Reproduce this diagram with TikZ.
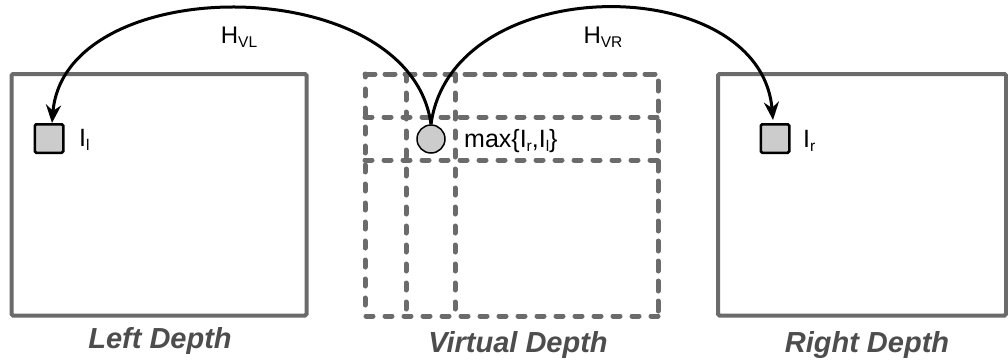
\documentclass[tikz,border=0pt]{standalone}
\usepackage{fontspec}
\setmainfont{Liberation Sans}
\usetikzlibrary{arrows.meta}
\newcommand{\sbs}[1]{\raisebox{-4bp}{\fontsize{15.5bp}{15.5bp}\selectfont #1}}
\definecolor{framegray}{HTML}{6B6B6B}
\definecolor{dashgray}{HTML}{6B6B6B}
\definecolor{capgray}{HTML}{4D4D4D}
\definecolor{boxfill}{HTML}{CCCCCC}
\begin{document}
\begin{tikzpicture}[x=1bp,y=-1bp,
  depthframe/.style={draw=framegray,line width=4bp,rounded corners=1.5bp},
  dashouter/.style={draw=dashgray,line width=5bp,line cap=round,dash pattern=on 10bp off 10bp},
  dashgrid/.style={draw=dashgray,line width=5bp,line cap=round,dash pattern=on 7bp off 12bp},
  pix/.style={draw=black,fill=boxfill,line width=2.5bp,rounded corners=1.5bp,minimum size=28.5bp,inner sep=0pt},
  vdot/.style={circle,draw=black,fill=boxfill,line width=1.5bp,minimum size=28bp,inner sep=0pt},
  lab/.style={font=\fontsize{25bp}{28bp}\selectfont,inner sep=0pt,anchor=base west},
  hlab/.style={font=\fontsize{24bp}{28bp}\selectfont,inner sep=0pt,anchor=base},
  captext/.style={font=\fontsize{29bp}{32bp}\selectfont\bfseries\itshape,text=capgray,inner sep=0pt,anchor=base},
  curvearrow/.style={draw=black,line width=3bp,-{Stealth[length=18bp,width=15bp]}}
]
\useasboundingbox[fill=white] (0,0) rectangle (1008,363);
% frames
\draw[depthframe] (11.5,74) rectangle (306.5,315.5);
\draw[depthframe] (718,74) rectangle (1006,315.5);
% virtual dashed grid
\draw[dashouter] (365,74) -- (658,74) -- (658,316);
\draw[dashgrid] (658,316) -- (365,316) -- (365,74);
\draw[dashgrid] (406,74) -- (406,316);
\draw[dashgrid] (455,74) -- (455,316);
\draw[dashgrid] (365,117) -- (658,117);
\draw[dashgrid] (365,160) -- (658,160);
% pixels
\node[pix] (sqL) at (49,138.5) {};
\node[pix] (sqR) at (775,138.5) {};
\node[vdot] (c) at (431,139) {};
% labels
\node[lab] (tl) at (79,146.5) {I\sbs{l}};
\node[lab] (tr) at (803,147) {I\sbs{r}};
\node[lab] (tm) at (464,147) {max\{I\sbs{r},I\sbs{l}\}};
\node[hlab] (hvl) at (239,43) {H\sbs{VL}};
\node[hlab] (hvr) at (603,43) {H\sbs{VR}};
% captions
\node[captext] (cl) at (160,348) {Left Depth};
\node[captext] (cv) at (518,352) {Virtual Depth};
\node[captext] (cr) at (867,352) {Right Depth};
% arrows
\draw[curvearrow] (c.north) .. controls (410,-30) and (65,-30) .. ([xshift=3bp]sqL.north);
\draw[curvearrow] (c.north) .. controls (452,-30) and (760,-30) .. ([xshift=-2bp,yshift=3bp]sqR.north);
\end{tikzpicture}
\end{document}
